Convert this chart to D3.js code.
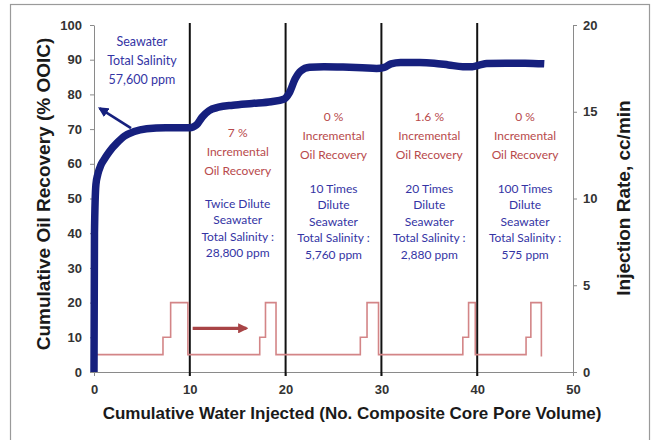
<!DOCTYPE html>
<html>
<head>
<meta charset="utf-8">
<script src="https://cdn.jsdelivr.net/npm/d3@7"></script>
<style>
  body { margin: 0; background: #fff; }
  .axis path, .axis line { stroke: #8a8a8a; }
  .axis text { font-family: "Liberation Sans", Arial, sans-serif; font-weight: bold; font-size: 13px; fill: #333; }
  .axis-label { font-family: "Liberation Sans", Arial, sans-serif; font-weight: bold; fill: #1a1a1a; }
  .note { font-family: Lato, "Open Sans", sans-serif; font-size: 12px; text-anchor: middle; }
</style>
</head>
<body>
<svg id="chart" width="655" height="440"></svg>
<script>
// cumulative oil recovery (% OOIC) vs pore volumes injected
const pvInjected = [0, 0.05, 0.2, 0.4, 0.7, 1.0, 1.6, 2.4, 3.2, 4.2, 5.5, 7.5, 10.0, 10.7, 11.3, 12.0, 13.0, 14.5, 16.5, 18.5, 19.8,
  20.4, 21.0, 21.6, 22.5, 24, 26, 28, 29.5, 30.3, 31, 32, 34, 35.5, 37, 38.5, 39.5, 40.3, 41, 43, 45, 47];
const oilRecovery = [0, 40, 54, 57, 59.5, 61, 63.5, 66, 68, 69.3, 70.1, 70.4, 70.4, 71.2, 73.5, 75.3, 76.3, 76.9, 77.4, 77.9, 78.6,
  80.5, 84.5, 86.8, 87.8, 88, 87.9, 87.7, 87.5, 87.8, 88.8, 89.2, 89.2, 89.0, 88.5, 88.0, 88.0, 88.5, 88.9, 89, 89, 88.8];

// injection rate steps (cc/min), value holds until next change
const rateChangeAt = [0.3, 7.2, 8.0, 9.8, 17.3, 17.9, 19.0, 27.8, 28.5, 29.7, 38.5, 39.1, 39.8, 45.1, 45.6, 46.7];
const rateValue =    [1,   2,   4,   1,   2,    4,    1,    2,    4,    1,    2,    4,    1,    2,    4,    0.9];

const stageBounds = [10, 20, 30, 40];
const stageCenters = [15, 25, 35, 45];
const stageRecovery = ["7 %", "0 %", "1.6 %", "0 %"];
const stageBrine = [
  ["Twice Dilute", "Seawater", "Total Salinity :", "28,800 ppm"],
  ["10 Times", "Dilute", "Seawater", "Total Salinity :", "5,760 ppm"],
  ["20 Times", "Dilute", "Seawater", "Total Salinity :", "2,880 ppm"],
  ["100 Times", "Dilute", "Seawater", "Total Salinity :", "575 ppm"]
];
const seawaterNote = ["Seawater", "Total Salinity", "57,600 ppm"];

const leftTicks = d3.range(0, 101, 10);
const rightTicks = [0, 5, 10, 15, 20];
const xTicks = [0, 10, 20, 30, 40, 50];

const svg = d3.select("#chart");
const blue = "#16207e";
const red = "#b84a4c";
const noteBlue = "#3434a4";

const xScale = d3.scaleLinear().domain([0, 50]).range([94, 573]);
const yScale = d3.scaleLinear().domain([0, 100]).range([372, 25]);
const rScale = d3.scaleLinear().domain([0, 20]).range([372, 25]);

// outer frame
svg.append("rect")
  .attr("x", 10.5).attr("y", 4.5)
  .attr("width", 639).attr("height", 460)
  .attr("fill", "none").attr("stroke", "#9a9a9a").attr("stroke-width", 1.2);

// axes
svg.append("g").attr("class", "axis")
  .attr("transform", "translate(0,372)")
  .call(d3.axisBottom(xScale).tickValues(xTicks).tickSize(4).tickSizeOuter(0).tickPadding(9));

svg.append("g").attr("class", "axis")
  .attr("transform", "translate(94,0)")
  .call(d3.axisLeft(yScale).tickValues(leftTicks).tickSize(4).tickSizeOuter(0).tickPadding(8));

svg.append("g").attr("class", "axis")
  .attr("transform", "translate(573,0)")
  .call(d3.axisRight(rScale).tickValues(rightTicks).tickSize(4).tickSizeOuter(0).tickPadding(6));

// stage dividers
svg.append("g").selectAll("line").data(stageBounds).join("line")
  .attr("x1", d => xScale(d)).attr("x2", d => xScale(d))
  .attr("y1", yScale(100) - 2).attr("y2", yScale(0) + 4)
  .attr("stroke", "#111").attr("stroke-width", 2);

// injection rate
const rateData = rateChangeAt.map((x, i) => ({ x: x, r: rateValue[i] }));
svg.append("path")
  .datum(rateData)
  .attr("fill", "none")
  .attr("stroke", "#d38587")
  .attr("stroke-width", 1.6)
  .attr("d", d3.line().x(d => xScale(d.x)).y(d => rScale(d.r)).curve(d3.curveStepAfter));

// oil recovery
const oilData = pvInjected.map((x, i) => ({ x: x, y: oilRecovery[i] }));
svg.append("path")
  .datum(oilData)
  .attr("fill", "none")
  .attr("stroke", blue)
  .attr("stroke-width", 7.5)
  .attr("stroke-linejoin", "round")
  .attr("d", d3.line().x(d => xScale(d.x)).y(d => yScale(d.y)).curve(d3.curveMonotoneX));

// arrows
const defs = svg.append("defs");
defs.append("marker").attr("id", "headBlue")
  .attr("viewBox", "0 0 10 10").attr("refX", 8).attr("refY", 5)
  .attr("markerWidth", 4).attr("markerHeight", 4).attr("orient", "auto")
  .append("path").attr("d", "M0,0L10,5L0,10z").attr("fill", blue);
defs.append("marker").attr("id", "headRed")
  .attr("viewBox", "0 0 10 10").attr("refX", 8).attr("refY", 5)
  .attr("markerWidth", 3.2).attr("markerHeight", 3.2).attr("orient", "auto")
  .append("path").attr("d", "M0,0L10,5L0,10z").attr("fill", "#a84446");

svg.append("line")
  .attr("x1", xScale(3.86)).attr("y1", yScale(70.3))
  .attr("x2", xScale(0.6)).attr("y2", yScale(76))
  .attr("stroke", blue).attr("stroke-width", 2.6)
  .attr("marker-end", "url(#headBlue)");

svg.append("line")
  .attr("x1", xScale(10.3)).attr("y1", rScale(2.52))
  .attr("x2", xScale(15.9)).attr("y2", rScale(2.52))
  .attr("stroke", "#a84446").attr("stroke-width", 3.2)
  .attr("marker-end", "url(#headRed)");

// notes
const sw = svg.append("text").attr("class", "note").attr("fill", noteBlue).style("font-size", "12.5px");
sw.selectAll("tspan").data(seawaterNote).join("tspan")
  .attr("x", xScale(5))
  .attr("y", (d, i) => yScale(95.1) + 4 + i * 19)
  .text(d => d);

stageCenters.forEach(function (cx, k) {
  const redTop = k === 0 ? 133 : 117;
  const blueTop = k === 0 ? 204 : 189;
  const redLines = [stageRecovery[k], "Incremental", "Oil Recovery"];
  svg.append("text").attr("class", "note").attr("fill", red)
    .selectAll("tspan").data(redLines).join("tspan")
      .attr("x", xScale(cx))
      .attr("y", (d, i) => redTop + 4 + i * 19)
      .text(d => d);
  svg.append("text").attr("class", "note").attr("fill", noteBlue)
    .selectAll("tspan").data(stageBrine[k]).join("tspan")
      .attr("x", xScale(cx))
      .attr("y", (d, i) => blueTop + 4 + i * 16.4)
      .text(d => d);
});

// axis titles
svg.append("text").attr("class", "axis-label")
  .attr("x", 352).attr("y", 419)
  .attr("text-anchor", "middle").style("font-size", "17px")
  .text("Cumulative Water Injected (No. Composite Core Pore Volume)");

svg.append("text").attr("class", "axis-label")
  .attr("transform", "translate(50,194) rotate(-90)")
  .attr("text-anchor", "middle").style("font-size", "19px")
  .text("Cumulative Oil Recovery (% OOIC)");

svg.append("text").attr("class", "axis-label")
  .attr("transform", "translate(630,198) rotate(-90)")
  .attr("text-anchor", "middle").style("font-size", "19px")
  .text("Injection Rate, cc/min");
</script>
</body>
</html>
